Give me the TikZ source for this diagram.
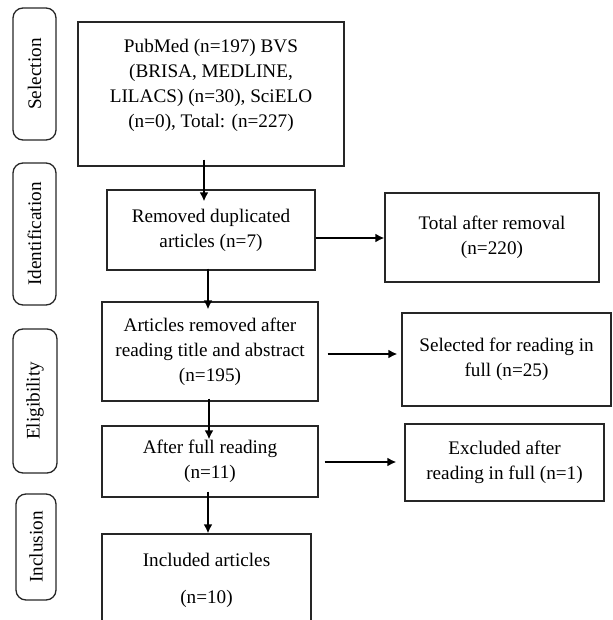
\documentclass[tikz,border=0pt]{standalone}
\usepackage{fontspec}
\setmainfont{Liberation Serif}
\usetikzlibrary{arrows.meta}

\tikzset{
  box/.style={draw=black!85, line width=0.65pt, align=center, inner sep=2pt,
    font=\fontsize{9.6}{12.5}\selectfont},
  stage/.style={box, rounded corners=5pt, rotate=90},
  link/.style={line width=1.15pt, -{Latex[length=4.5pt,width=4.5pt]}}
}

\begin{document}
\begin{tikzpicture}[x=0.5pt,y=-0.5pt]
    \useasboundingbox (0,0) rectangle (612,620);
    \clip (0,0) rectangle (612,620);

    % Stages on the left
    \node[stage, minimum width=66pt, minimum height=21.5pt] (sel) at (34.5,74) {Selection};
    \node[stage, minimum width=71pt, minimum height=21.5pt] (ident) at (34.5,234) {Identification};
    \node[stage, minimum width=72pt, minimum height=22pt] (elig) at (35,401) {Eligibility};
    \node[stage, minimum width=53pt, minimum height=20pt] (incl) at (36,547) {Inclusion};

    % Main column
    \node[box, minimum width=133pt, minimum height=72pt] (search) at (211,94)
        {PubMed (n=197) BVS\\(BRISA, MEDLINE,\\LILACS) (n=30), SciELO\\(n=0), Total: (n=227)\\[-2pt]\mbox{}};
    \node[box, minimum width=104pt, minimum height=40pt] (dupl) at (211,230)
        {Removed duplicated\\articles (n=7)};
    \node[box, minimum width=108pt, minimum height=49.5pt] (title) at (210,351.5)
        {Articles removed after\\reading title and abstract\\(n=195)};
    \node[box, minimum width=108pt, minimum height=35.5pt] (full) at (210,461.5)
        {After full reading\\(n=11)};
    \node[box, minimum width=104.5pt, minimum height=46pt] (incd) at (206.5,580)
        {Included articles\\[6pt](n=10)};

    % Side column
    \node[box, minimum width=107pt, minimum height=44.5pt] (total) at (492,237.5)
        {Total after removal\\(n=220)};
    \node[box, minimum width=104.5pt, minimum height=46.5pt] (selfull) at (506.5,359.5)
        {Selected for reading in\\full (n=25)};
    \node[box, minimum width=99.5pt, minimum height=38.5pt] (excl) at (504.5,462.5)
        {Excluded after\\reading in full (n=1)};

    % Arrows down
    \draw[link] ([xshift=-3.5pt,yshift=3.5pt]search.south) -- ([xshift=-3.5pt,yshift=-6pt]dupl.north);
    \draw[link] ([xshift=-1.5pt,yshift=1pt]dupl.south) -- ([xshift=-1pt,yshift=-4pt]title.north);
    \draw[link] ([xshift=-0.5pt,yshift=1.5pt]title.south) -- ([xshift=-0.5pt,yshift=-7pt]full.north);
    \draw[link] ([xshift=-1pt,yshift=3pt]full.south) -- ([xshift=0.75pt]incd.north);

    % Arrows to the right
    \draw[link] ([yshift=-4pt]dupl.east) -- ([yshift=-0.25pt]total.west);
    \draw[link] ([xshift=4.5pt,yshift=-1.25pt]title.east) -- ([xshift=-2pt,yshift=2.75pt]selfull.west);
    \draw[link] ([xshift=3pt,yshift=-0.25pt]full.east) -- ([xshift=-4pt,yshift=0.25pt]excl.west);
\end{tikzpicture}
\end{document}
